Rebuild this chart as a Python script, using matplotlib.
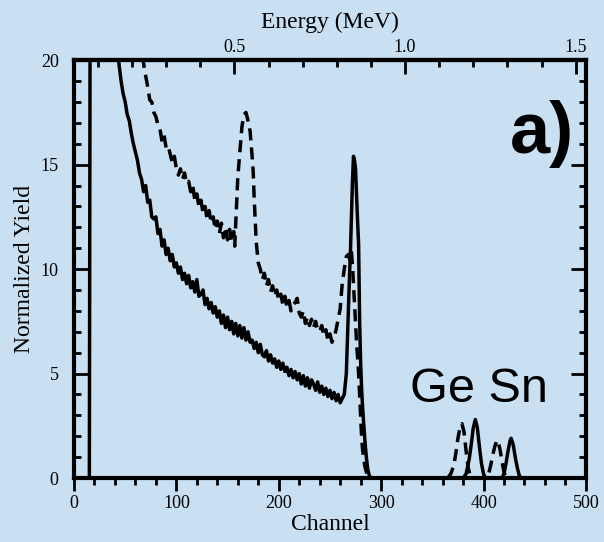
import matplotlib
matplotlib.use('Agg')
import matplotlib.pyplot as plt
from matplotlib.ticker import MultipleLocator, FixedLocator

# solid spectrum (channel, normalized yield)
solid_ch = [0, 15, 16, 42, 44, 46, 48, 50, 52, 54, 56, 58, 60, 62, 64, 66, 68, 70, 72, 74, 76, 78, 80,
            82, 84, 86, 88, 90, 92, 94, 96, 98, 100, 102, 104, 106, 108, 110, 112, 114, 116, 118, 120,
            122, 124, 126, 128, 130, 132, 134, 136, 138, 140, 142, 144, 146, 148, 150, 152, 154, 156,
            158, 160, 162, 164, 166, 168, 170, 172, 174, 176, 178, 180, 182, 184, 186, 188, 190, 192,
            194, 196, 198, 200, 202, 204, 206, 208, 210, 212, 214, 216, 218, 220, 222, 224, 226, 228,
            230, 232, 234, 236, 238, 240, 242, 244, 246, 248, 250, 252, 254, 256, 258, 260, 262, 264,
            266, 267, 268, 269, 270, 271, 272, 273, 274, 275, 276, 277, 278, 279, 280, 281, 282, 283,
            284, 285, 286, 287, 288, 289, 290, 380, 383, 386, 388, 390, 392, 394, 396, 398, 400, 402,
            418, 420, 422, 424, 426, 427, 429, 431, 433, 435, 437, 500]
solid_y = [0, 0, 30, 21, 19.8, 19.0, 18.4, 18.0, 17.4, 17.1, 16.5, 16.0, 15.6, 15.2, 14.6, 14.3, 13.7,
           14.0, 13.2, 13.3, 12.5, 12.4, 12.5, 11.7, 11.9, 11.1, 11.4, 10.7, 11.0, 10.4, 10.7, 10.1,
           10.3, 9.8, 10.1, 9.5, 9.8, 9.3, 9.7, 9.1, 9.4, 8.9, 9.5, 8.7, 8.8, 9.0, 8.3, 8.6, 8.1, 8.4,
           7.9, 8.2, 7.7, 8.0, 7.4, 7.8, 7.2, 7.7, 7.1, 7.5, 6.9, 7.4, 6.8, 7.3, 6.7, 7.2, 6.6, 7.0,
           6.5, 6.6, 6.2, 6.5, 6.0, 6.4, 5.9, 5.8, 6.1, 5.6, 5.9, 5.5, 5.7, 5.3, 5.6, 5.2, 5.5, 5.1,
           5.3, 4.9, 5.2, 4.8, 5.1, 4.7, 5.0, 4.5, 4.9, 4.4, 4.8, 4.3, 4.7, 4.5, 4.2, 4.6, 4.1, 4.4,
           4.0, 4.3, 3.9, 4.2, 3.8, 4.1, 3.7, 4.0, 3.6, 3.8, 4.0, 5.0, 6.5, 8.0, 9.5, 10.8, 12.5, 14.2,
           15.4, 15.2, 14.8, 13.5, 12.3, 11.2, 7.5, 5.5, 4.2, 3.3, 2.6, 1.9, 1.3, 0.8, 0.4, 0.2, 0.05,
           0, 0, 0.2, 0.9, 1.6, 2.4, 2.8, 2.4, 1.5, 0.7, 0.2, 0, 0, 0.2, 0.7, 1.3, 1.8, 1.9, 1.6, 1.0,
           0.5, 0.1, 0, 0]

# dashed spectrum
dash_ch = [60, 64, 67, 69, 71, 74, 76, 78, 80, 82, 84, 86, 88, 90, 92, 94, 96, 98, 100, 102, 104, 106,
           108, 110, 112, 114, 116, 118, 120, 122, 124, 126, 128, 130, 132, 134, 136, 138, 140, 142,
           144, 146, 148, 150, 152, 154, 156, 157, 158, 159, 160, 162, 164, 166, 168, 170, 172, 174,
           175, 176, 177, 178, 180, 182, 184, 186, 188, 190, 192, 194, 196, 198, 200, 202, 204, 206,
           208, 210, 212, 214, 216, 218, 220, 222, 224, 226, 228, 230, 232, 234, 236, 238, 240, 242,
           244, 246, 248, 250, 252, 254, 256, 258, 260, 262, 264, 266, 268, 270, 271, 272, 274, 276,
           278, 280, 281, 282, 284, 286, 288, 365, 368, 371, 373, 375, 377, 379, 381, 383, 385, 387,
           389, 403, 405, 407, 409, 411, 413, 414, 416, 418, 420, 422, 500]
dash_y = [22, 21, 20.2, 19.5, 19.0, 18.1, 18.0, 17.5, 17.3, 16.9, 16.7, 16.1, 16.4, 15.8, 15.9, 15.5,
          15.1, 15.4, 14.8, 14.5, 14.8, 14.3, 14.6, 14.1, 14.2, 13.7, 14.0, 13.3, 13.6, 13.0, 13.3,
          12.7, 13.0, 12.4, 12.8, 12.2, 12.5, 11.9, 12.3, 11.7, 12.2, 11.5, 12.0, 11.4, 11.9, 11.3,
          11.8, 11.1, 12.2, 13.2, 14.4, 15.6, 16.8, 17.4, 17.5, 17.1, 16.6, 15.4, 14.7, 13.4, 12.3,
          11.3, 10.3, 10.0, 9.5, 9.8, 9.2, 9.5, 8.9, 9.2, 8.7, 9.0, 8.5, 8.8, 8.3, 8.7, 8.2, 8.5, 8.0,
          8.3, 8.4, 8.6, 7.9, 7.7, 8.0, 7.4, 7.7, 7.3, 7.6, 7.2, 7.5, 7.1, 7.0, 7.3, 6.8, 7.1, 6.6,
          6.9, 6.5, 6.7, 7.1, 7.6, 8.1, 9.3, 10.0, 10.6, 10.7, 10.4, 10.8, 10.2, 8.3, 6.5, 5.0, 3.0,
          1.9, 1.3, 0.6, 0.2, 0, 0, 0.2, 0.6, 1.2, 1.9, 2.4, 2.6, 2.2, 1.3, 0.5, 0.1, 0, 0, 0.2, 0.6,
          1.1, 1.5, 1.8, 1.8, 1.4, 0.8, 0.3, 0, 0]

bg = '#c9e0f2'
plt.rcParams['font.family'] = ['Liberation Serif', 'DejaVu Serif']

fig = plt.figure(figsize=(6.04, 5.42), dpi=100, facecolor=bg)
ax = fig.add_axes([0.1225, 0.118, 0.8475, 0.771], facecolor=bg)

ax.plot(solid_ch, solid_y, color='black', lw=2.5, solid_joinstyle='round')
ax.plot(dash_ch, dash_y, color='black', lw=2.5, linestyle=(0, (3.5, 2.0)))

ax.set_xlim(0, 500)
ax.set_ylim(0, 20)
ax.xaxis.set_major_locator(MultipleLocator(100))
ax.xaxis.set_minor_locator(MultipleLocator(20))
ax.yaxis.set_major_locator(MultipleLocator(5))
ax.yaxis.set_minor_locator(MultipleLocator(1))

for s in ax.spines.values():
    s.set_linewidth(3)
ax.tick_params(axis='x', which='both', direction='out', width=2, labelsize=13, pad=3)
ax.tick_params(axis='x', which='major', length=9)
ax.tick_params(axis='x', which='minor', length=5)
ax.tick_params(axis='y', which='both', direction='in', width=2, labelsize=13, pad=11,
               right=True)
ax.tick_params(axis='y', which='major', length=11)
ax.tick_params(axis='y', which='minor', length=5)

ax.set_xlabel('Channel', fontsize=17, labelpad=2)
ax.set_ylabel('Normalized Yield', fontsize=17, labelpad=4)

# energy scale on top
sec = ax.secondary_xaxis('top', functions=(lambda c: 0.03 + 0.003 * c,
                                           lambda e: (e - 0.03) / 0.003))
sec.xaxis.set_major_locator(FixedLocator([0.5, 1.0, 1.5]))
sec.xaxis.set_minor_locator(FixedLocator([0.1, 0.2, 0.3, 0.4, 0.6, 0.7, 0.8, 0.9,
                                          1.1, 1.2, 1.3, 1.4]))
sec.xaxis.set_major_formatter(matplotlib.ticker.FormatStrFormatter('%.1f'))
sec.spines['top'].set_linewidth(3)
sec.tick_params(axis='x', which='both', direction='in', width=2, labelsize=13, pad=3)
sec.tick_params(axis='x', which='major', length=10)
sec.tick_params(axis='x', which='minor', length=5)
sec.set_xlabel('Energy (MeV)', fontsize=17, labelpad=8)

ax.text(328, 3.64, 'Ge Sn', family=['Liberation Sans', 'DejaVu Sans'], fontsize=35,
        ha='left', va='baseline')
ax.text(426, 15.55, 'a)', family=['Liberation Sans', 'DejaVu Sans'], fontsize=52,
        fontweight='bold', ha='left', va='baseline')

fig.savefig('out.png', dpi=100, facecolor=bg)
